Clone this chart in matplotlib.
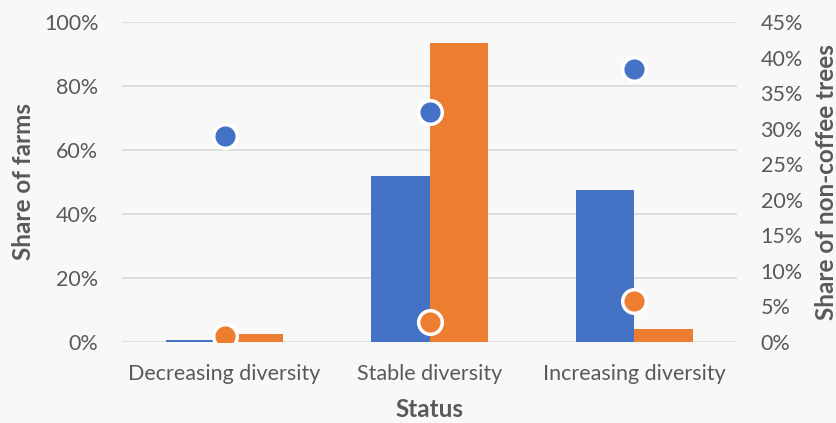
import numpy as np
import matplotlib.pyplot as plt
from matplotlib.ticker import FuncFormatter

plt.rcParams['font.family'] = ['Lato', 'DejaVu Sans']

categories = ["Decreasing diversity", "Stable diversity", "Increasing diversity"]

# bars: share of farms (left axis)
farms_blue = [0.5, 51.9, 47.6]
farms_orange = [2.6, 93.3, 4.1]

# dots: share of non-coffee trees (right axis)
trees_blue = [29.0, 32.3, 38.4]
trees_orange = [0.9, 2.8, 5.7]

blue = "#4472C4"
orange = "#ED7D31"
grey = "#595959"
bg = "#F8F8F8"
pct = FuncFormatter(lambda v, _: f"{v:.0f}%")

fig = plt.figure(figsize=(8.37, 4.23), dpi=100, facecolor=bg)
ax = fig.add_axes([0.1458, 0.1915, 0.7347, 0.7565], facecolor=bg)

x = np.arange(len(categories))
w = 0.287
ax.bar(x - w / 2, farms_blue, width=w, color=blue, zorder=2)
ax.bar(x + w / 2, farms_orange, width=w, color=orange, zorder=2)

ax.set_xlim(-0.5, 2.5)
ax.set_ylim(0, 100)
ax.set_yticks(range(0, 101, 20))
ax.yaxis.set_major_formatter(pct)
ax.grid(axis='y', color="#D9D9D9", linewidth=1.2, zorder=0)
ax.set_axisbelow(True)
ax.set_xticks(x)
ax.set_xticklabels(categories)
ax.tick_params(length=0, labelsize=15.5, colors=grey)
ax.tick_params(axis='x', pad=15.5)
ax.tick_params(axis='y', pad=17)
for s in ax.spines.values():
    s.set_visible(False)
ax.set_xlabel("Status", fontsize=17.5, fontweight='bold', color=grey, va='center')
ax.xaxis.set_label_coords(0.5, -0.21)
ax.set_ylabel("Share of farms", fontsize=17.5, fontweight='bold', color=grey, va='center')
ax.yaxis.set_label_coords(-0.16, 0.5)

ax2 = ax.twinx()
ax2.plot(x, trees_blue, 'o', color=blue, markersize=17, markeredgecolor='white',
         markeredgewidth=2.5, zorder=3)
ax2.plot(x, trees_orange, 'o', color=orange, markersize=17, markeredgecolor='white',
         markeredgewidth=2.5, zorder=3)
ax2.set_ylim(0, 45)
ax2.set_yticks(range(0, 46, 5))
ax2.yaxis.set_major_formatter(pct)
ax2.tick_params(length=0, labelsize=15.5, colors=grey, pad=17)
for s in ax2.spines.values():
    s.set_visible(False)
ax2.set_ylabel("Share of non-coffee trees", fontsize=17.5, fontweight='bold', color=grey,
               va='center', rotation=90)
ax2.yaxis.set_label_coords(1.146, 0.5)

fig.savefig("out.png", dpi=100, facecolor=bg)
